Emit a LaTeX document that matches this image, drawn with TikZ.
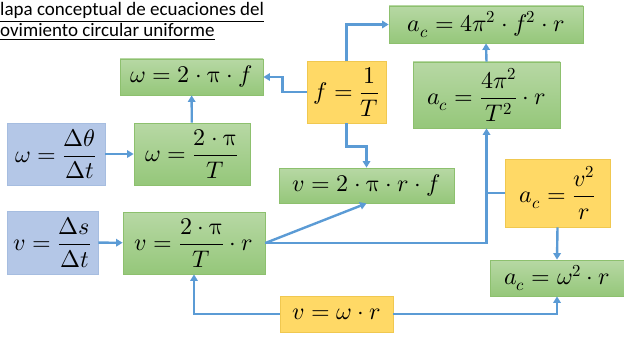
\documentclass[tikz,border=0pt]{standalone}
\usepackage{amsmath}
\usepackage{fontspec}
\usepackage{unicode-math}
\setmathfont{Latin Modern Math}
\newfontfamily\titlefont{Carlito}
\usetikzlibrary{arrows.meta}
\definecolor{arrowblue}{HTML}{5B9BD5}
\definecolor{greentop}{HTML}{B7D8A4}
\definecolor{greenbot}{HTML}{95C77A}
\definecolor{greenline}{HTML}{8DC06E}
\definecolor{bluefill}{HTML}{B4C7E7}
\definecolor{blueline}{HTML}{A6BDE0}
\definecolor{yellowfill}{HTML}{FFD966}
\definecolor{yellowline}{HTML}{F0C850}
\newcommand{\upi}{\symup{\pi}}
\begin{document}
\begin{tikzpicture}[
        x=1pt, y=-1pt,
        every node/.style={align=center, inner sep=0pt,
        font=\fontsize{24}{28}\selectfont},
        eqgreen/.style={draw=greenline, line width=0.8pt,
        top color=greentop, bottom color=greenbot},
        eqblue/.style={draw=blueline, line width=0.8pt, fill=bluefill},
        eqyellow/.style={draw=yellowline, line width=0.8pt, fill=yellowfill},
        link/.style={draw=arrowblue, line width=2.4pt},
        arr/.style={link, -{Triangle[width=7.5pt,length=6.5pt]}}
      ]
    \useasboundingbox (0,0) rectangle (624,345);
    % title
    \node[anchor=north west, align=left,
    font=\titlefont\fontsize{19}{17}\selectfont] (title) at (0,2)
    {\underline{lapa conceptual de ecuaciones del}\\
    \underline{ovimiento circular uniforme}};
    % equations
    \node[eqgreen, minimum width=143, minimum height=36] (omf) at (191.5,77)
    {$\omega = 2\cdot\upi\cdot f$};
    \node[eqyellow, minimum width=79, minimum height=62] (fT) at (346.5,92)
    {$f = \dfrac{1}{T}$};
    \node[eqgreen, minimum width=194, minimum height=37] (acf) at (486,24.5)
    {$a_c = 4\pi^2\cdot f^2\cdot r$};
    \node[eqgreen, minimum width=147, minimum height=66] (acT) at (486.5,95)
    {$a_c = \dfrac{4\pi^2}{T^2}\cdot r$};
    \node[eqblue, minimum width=98, minimum height=62] (omdt) at (56,154)
    {$\omega = \dfrac{\Delta\theta}{\Delta t}$};
    \node[eqgreen, minimum width=116, minimum height=62] (omT) at (192,154)
    {$\omega = \dfrac{2\cdot\upi}{T}$};
    \node[eqgreen, minimum width=175, minimum height=35] (vf) at (366.5,185.5)
    {$v = 2\cdot\upi\cdot r\cdot f$};
    \node[eqblue, minimum width=91, minimum height=63] (vdt) at (52.5,242.5)
    {$v = \dfrac{\Delta s}{\Delta t}$};
    \node[eqgreen, minimum width=142, minimum height=62] (vT) at (194,243)
    {$v = \dfrac{2\cdot\upi}{T}\cdot r$};
    \node[eqyellow, minimum width=105, minimum height=68] (acv) at (557.5,193)
    {$a_c = \dfrac{v^2}{r}$};
    \node[eqgreen, minimum width=134, minimum height=36] (acw) at (557,278)
    {$a_c = \omega^2\cdot r$};
    \node[eqyellow, minimum width=113, minimum height=36] (vwr) at (336.5,314)
    {$v = \omega\cdot r$};
    % connectors
    \draw[arr] (fT.west) -- ++(-24,0) |- (omf.east);
    \draw[arr] (fT.north) |- (acf.west);
    \draw[arr] (fT.south) -- ++(0,23) -| (vf.north);
    \draw[arr] (acT.north) -- (acf.south);
    \draw[arr] (omdt) -- (omT);
    \draw[arr] (omT) -- (omf);
    \draw[arr] (vdt) -- (vT);
    \draw[arr] (vT.east) -- (vf.south);
    \draw[arr] (vT.east) -| (acT.south);
    \draw[link] (acv.west) -- (acT.south |- acv.west);
    \draw[arr] (acv.south) -- (acw.north);
    \draw[arr] (vwr.west) -| (vT.south);
    \draw[arr] (vwr.east) -| (acw.south);
\end{tikzpicture}
\end{document}
